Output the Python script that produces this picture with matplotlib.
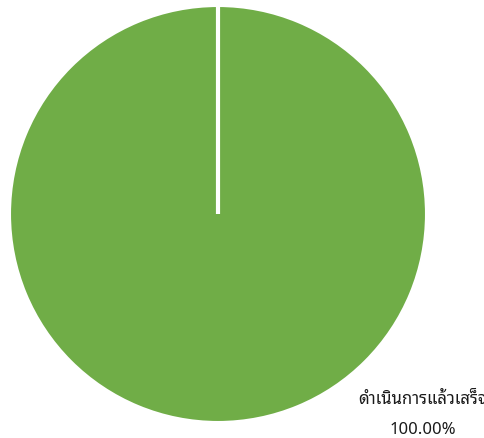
import matplotlib
matplotlib.use('Agg')
import matplotlib.pyplot as plt

# ข้อมูล
labels = ['ดำเนินการแล้วเสร็จ']
values = [100.0]
colors = ['#70AD47']

plt.rcParams['font.family'] = ['Noto Sans Thai Looped', 'Noto Sans Thai', 'DejaVu Sans']

fig = plt.figure(figsize=(4.85, 4.39), dpi=100)
ax = fig.add_axes([0, 0, 1, 1])

wedges, _ = ax.pie(values, colors=colors, startangle=90, counterclock=False,
                   center=(218, 224), radius=208, frame=True,
                   wedgeprops={'edgecolor': 'white', 'linewidth': 1.5})
ax.set_xlim(0, 485)
ax.set_ylim(0, 439)
ax.set_aspect('equal')
ax.axis('off')

# เส้นขาวจากจุดศูนย์กลางถึงขอบ (จุดเริ่มต้นของชิ้น)
w = wedges[0]
cx, cy = w.center
ax.plot([cx, cx], [cy, cy + w.r], color='white', lw=3, solid_capstyle='butt')

# ป้ายข้อมูล
pct = values[0] / sum(values) * 100
ax.text(423, 35, labels[0], ha='center', va='baseline', fontsize=12, color='#1a1a1a')
ax.text(423, 5, '%.2f%%' % pct, ha='center', va='baseline', fontsize=12, color='#1a1a1a',
        family=['Noto Sans', 'DejaVu Sans'])

fig.savefig('out.png', dpi=100)
